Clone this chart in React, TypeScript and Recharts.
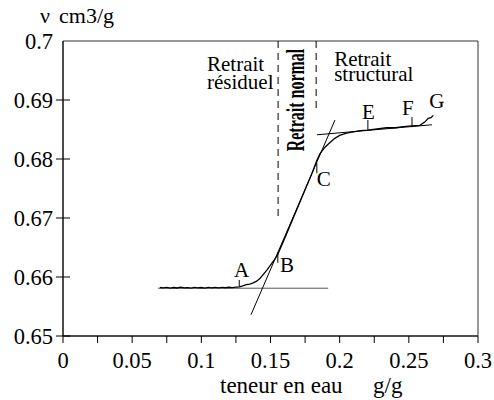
import React from 'react';
import { ComposedChart, Line, XAxis, YAxis, ReferenceArea, ReferenceDot, ReferenceLine } from 'recharts';

// ---- axes ----
const xTicks = [0, 0.025, 0.05, 0.075, 0.1, 0.125, 0.15, 0.175, 0.2, 0.225, 0.25, 0.275, 0.3];
const xTickLabels = ['0', '', '0.05', '', '0.1', '', '0.15', '', '0.2', '', '0.25', '', '0.3'];
const yTicks = [0.65, 0.66, 0.67, 0.68, 0.69, 0.7];
const yTickLabels = ['0.65', '0.66', '0.67', '0.68', '0.69', '0.7'];

// ---- measured shrinkage curve (water content g/g -> specific volume cm3/g) ----
const curveX = [
  0.07, 0.0725, 0.075, 0.0775, 0.08, 0.0825, 0.085, 0.0875, 0.09, 0.0925, 0.095, 0.0975,
  0.1, 0.1025, 0.105, 0.1075, 0.11, 0.1125, 0.115, 0.1175, 0.12, 0.1225, 0.125, 0.1275,
  0.13, 0.1325, 0.135, 0.1375, 0.14, 0.1425, 0.145, 0.1475, 0.15, 0.1525, 0.155,
  0.16, 0.165, 0.17, 0.175, 0.18, 0.1834, 0.1858, 0.1894, 0.193, 0.1965, 0.2, 0.205,
  0.21, 0.215, 0.2203, 0.227, 0.234, 0.2405, 0.246, 0.252, 0.258, 0.2617, 0.264, 0.266, 0.2677,
];
const curveV = [
  0.65822, 0.65815, 0.65825, 0.65812, 0.65822, 0.65814, 0.65826, 0.65815, 0.6582, 0.65812, 0.65824, 0.65816,
  0.65822, 0.65813, 0.65823, 0.65815, 0.65824, 0.65816, 0.65825, 0.65818, 0.65826, 0.6582, 0.65828, 0.65832,
  0.6585, 0.6587, 0.6588, 0.659, 0.6593, 0.6598, 0.6605, 0.6612, 0.662, 0.6628, 0.6637,
  0.6664, 0.6692, 0.672, 0.6748, 0.6776, 0.6797, 0.6809, 0.682, 0.6828, 0.6835, 0.684, 0.6844,
  0.6846, 0.6848, 0.6849, 0.6851, 0.6853, 0.6853, 0.6855, 0.6856, 0.6857, 0.6863, 0.6869, 0.687, 0.6874,
];

// ---- tangent lines ----
const lowTangentX = [0.0687, 0.1917];
const lowTangentV = [0.6581, 0.6581];
const steepTangentX = [0.1359, 0.1966];
const steepTangentV = [0.6536, 0.6866];
const upperTangentX = [0.1836, 0.2667];
const upperTangentV = [0.6841, 0.6858];

// ---- dashed domain limits ----
const residualLimitX = [0.1555, 0.1555];
const residualLimitV = [0.7, 0.6697];
const normalLimitX = [0.183, 0.183];
const normalLimitV = [0.7, 0.6883];

// ---- point markers (A, B, C, E, F) ----
const markerX = [0.1274, 0.1553, 0.1835, 0.2204, 0.2523];
const markerLow = [0.6584, 0.6624, 0.6776, 0.6849, 0.6854];
const markerHigh = [0.6595, 0.6642, 0.6793, 0.6866, 0.6871];

// ---- point labels ----
const pointLabels = ['A', 'B', 'C', 'E', 'F', 'G'];
const pointLabelX = [0.1236, 0.1569, 0.1835, 0.2161, 0.245, 0.2648];
const pointLabelV = [0.66, 0.6609, 0.6754, 0.6868, 0.6875, 0.6886];

// ---- region annotations ----
const regionLines = ['Retrait', 'résiduel', 'Retrait', 'structural'];
const regionX = [0.1041, 0.1041, 0.196, 0.196];
const regionV = [0.69492, 0.69186, 0.69581, 0.69322];
const normalLabel = 'Retrait normal';
const normalLabelX = 0.1739;
const normalLabelV = 0.69;

const xTitle = 'teneur en eau';
const xUnit = 'g/g';
const yTitleSymbol = 'ν';
const yUnit = 'cm3/g';

const FONT = 'Liberation Serif';

const toPts = (xs: number[], vs: number[]) => xs.map((x, i) => ({ x, v: vs[i] }));

const curveData = toPts(curveX, curveV);
const lowTangent = toPts(lowTangentX, lowTangentV);
const steepTangent = toPts(steepTangentX, steepTangentV);
const upperTangent = toPts(upperTangentX, upperTangentV);
const residualLimit = toPts(residualLimitX, residualLimitV);
const normalLimit = toPts(normalLimitX, normalLimitV);

const txt = (size: number, weight: any = 'normal'): React.CSSProperties => ({
  fontFamily: FONT,
  fontSize: size,
  fontWeight: weight,
  fill: '#000',
});

const XTick = (props: any) => {
  const { x, y, index } = props;
  const label = xTickLabels[index] ?? '';
  return (
    <g>
      <line x1={x} x2={x} y1={y} y2={y + 7} stroke="#000" strokeWidth={1} />
      {label !== '' && (
        <text x={x} y={y + 32} textAnchor="middle" style={txt(22.5)}>
          {label}
        </text>
      )}
    </g>
  );
};

const YTick = (props: any) => {
  const { x, y, index } = props;
  const label = yTickLabels[index] ?? '';
  const isTop = index === yTicks.length - 1;
  return (
    <g>
      {!isTop && <line x1={x - 7} x2={x + 7} y1={y} y2={y} stroke="#000" strokeWidth={1} />}
      <text x={x - 10} y={y + 8} textAnchor="end" style={txt(22.5)}>
        {label}
      </text>
    </g>
  );
};

const textShape = (
  text: string,
  size: number,
  sx = 1,
  sy = 1,
  rotate = 0,
  anchor = 'start',
  weight: any = 'normal'
) => (p: any) => (
  <text
    transform={`translate(${p.cx},${p.cy}) rotate(${rotate}) scale(${sx},${sy})`}
    textAnchor={anchor}
    style={txt(size, weight)}
  >
    {text}
  </text>
);

export default function App() {
  return (
    <div style={{ position: 'absolute', left: 0, top: 0, width: 494, height: 400, background: '#fff' }}>
      <ComposedChart width={494} height={400} margin={{ top: 41, right: 16, bottom: 34, left: 13 }}>
        <XAxis
          type="number"
          dataKey="x"
          domain={[0, 0.3]}
          ticks={xTicks}
          interval={0}
          tickSize={0}
          tickMargin={0}
          tick={<XTick />}
          tickLine={false}
          axisLine={{ stroke: '#000', strokeWidth: 1 }}
          height={30}
          allowDataOverflow
          label={(p: any) => {
            const vb = p.viewBox;
            return (
              <g>
                <text x={vb.x + 157} y={vb.y + 57} style={txt(23)}>{xTitle}</text>
                <text x={vb.x + 310} y={vb.y + 57} style={txt(23)}>{xUnit}</text>
              </g>
            );
          }}
        />
        <YAxis
          type="number"
          dataKey="v"
          domain={[0.65, 0.7]}
          ticks={yTicks}
          interval={0}
          tickSize={0}
          tickMargin={0}
          tick={<YTick />}
          tickLine={false}
          axisLine={{ stroke: '#000', strokeWidth: 1 }}
          width={50}
          allowDataOverflow
          label={(p: any) => {
            const vb = p.viewBox;
            return (
              <g>
                <text x={vb.x + 27} y={vb.y - 18} style={txt(22)}>{yTitleSymbol}</text>
                <text x={vb.x + 46} y={vb.y - 18} style={txt(22)}>{yUnit}</text>
              </g>
            );
          }}
        />
        <ReferenceArea x1={0} x2={0.3} y1={0.65} y2={0.7} fill="none" stroke="#333" strokeWidth={1} />

        <Line data={residualLimit} dataKey="v" stroke="#000" strokeWidth={1} strokeDasharray="7 5" dot={false} activeDot={false} isAnimationActive={false} />
        <Line data={normalLimit} dataKey="v" stroke="#000" strokeWidth={1} strokeDasharray="7 5" dot={false} activeDot={false} isAnimationActive={false} />

        <Line data={lowTangent} dataKey="v" stroke="#555" strokeWidth={1} dot={false} activeDot={false} isAnimationActive={false} />
        <Line data={steepTangent} dataKey="v" stroke="#000" strokeWidth={1} dot={false} activeDot={false} isAnimationActive={false} />
        <Line data={upperTangent} dataKey="v" stroke="#000" strokeWidth={1} dot={false} activeDot={false} isAnimationActive={false} />

        <Line data={curveData} dataKey="v" type="linear" stroke="#000" strokeWidth={1.3} dot={false} activeDot={false} isAnimationActive={false} />

        {markerX.map((mx, i) => (
          <ReferenceLine
            key={`m${i}`}
            segment={[{ x: mx, y: markerLow[i] }, { x: mx, y: markerHigh[i] }]}
            stroke="#000"
            strokeWidth={1}
          />
        ))}

        {pointLabels.map((t, i) => (
          <ReferenceDot key={`p${i}`} x={pointLabelX[i]} y={pointLabelV[i]} r={0} shape={textShape(t, 21)} />
        ))}

        {regionLines.map((t, i) => (
          <ReferenceDot key={`r${i}`} x={regionX[i]} y={regionV[i]} r={0} shape={textShape(t, 21)} />
        ))}

        <ReferenceDot
          x={normalLabelX}
          y={normalLabelV}
          r={0}
          shape={textShape(normalLabel, 16, 1, 1.55, -90, 'middle', 'bold')}
        />
      </ComposedChart>
    </div>
  );
}
